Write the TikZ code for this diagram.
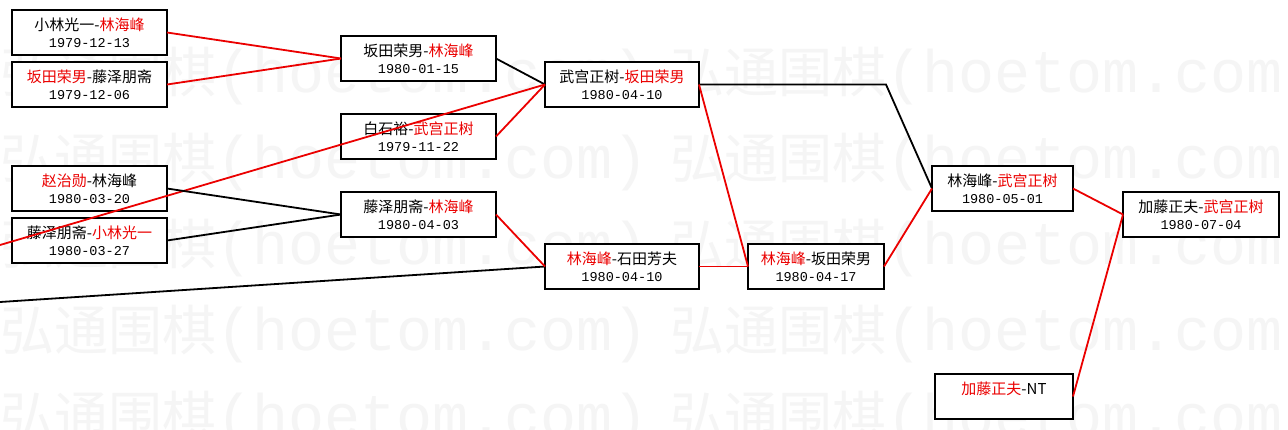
\documentclass[tikz,border=0pt]{standalone}
\usepackage{fontspec}
\setmainfont{Noto Sans CJK SC}
\newfontfamily\datefont{Liberation Mono}
\newfontfamily\wmmono{Liberation Mono}
\definecolor{winred}{RGB}{235,0,0}
\definecolor{wmgray}{RGB}{245,245,245}
\newcommand{\W}[1]{\textcolor{winred}{#1}}
\newcommand{\dt}[1]{{\datefont\fontsize{13.5}{17}\selectfont #1}}
\tikzset{
  game/.style={draw=black, line width=1.8pt, fill=white, inner sep=0pt,
    outer sep=0pt, minimum height=45pt, align=center,
    font=\fontsize{15}{17}\selectfont},
  redline/.style={draw=winred, line width=1.8pt},
  blackline/.style={draw=black, line width=1.8pt},
  wm/.style={text=wmgray, inner sep=0pt, anchor=west,
    font=\fontsize{54}{60}\selectfont}
}
\begin{document}
\begin{tikzpicture}[x=1pt,y=-1pt]
\useasboundingbox[fill=white] (0,0) rectangle (1288,429);
% watermark
\foreach \r [count=\i] in {76,162,248,334,420} {
  \foreach \c [count=\j] in {0,670} {
    \node[wm] (wm-\i-\j) at (\c,\r) {弘通围棋{\wmmono\fontsize{60}{60}\selectfont(hoetom.com)}};
  }
}
% boxes
\node[game, minimum width=155pt] (A) at (89.5,32.5) {小林光一-\W{林海峰}\\\dt{1979-12-13}};
\node[game, minimum width=155pt] (B) at (89.5,84.5) {\W{坂田荣男}-藤泽朋斋\\\dt{1979-12-06}};
\node[game, minimum width=155pt] (C) at (89.5,188.5) {\W{赵治勋}-林海峰\\\dt{1980-03-20}};
\node[game, minimum width=155pt] (D) at (89.5,240.5) {藤泽朋斋-\W{小林光一}\\\dt{1980-03-27}};
\node[game, minimum width=155pt] (E) at (418.5,58.5) {坂田荣男-\W{林海峰}\\\dt{1980-01-15}};
\node[game, minimum width=155pt] (F) at (418.5,136.5) {白石裕-\W{武宫正树}\\\dt{1979-11-22}};
\node[game, minimum width=155pt] (G) at (418.5,214.5) {藤泽朋斋-\W{林海峰}\\\dt{1980-04-03}};
\node[game, minimum width=154pt] (H) at (622,84.5) {武宫正树-\W{坂田荣男}\\\dt{1980-04-10}};
\node[game, minimum width=154pt] (I) at (622,266.5) {\W{林海峰}-石田芳夫\\\dt{1980-04-10}};
\node[game, minimum width=136pt] (J) at (816,266.5) {\W{林海峰}-坂田荣男\\\dt{1980-04-17}};
\node[game, minimum width=141pt] (K) at (1002.5,188.5) {林海峰-\W{武宫正树}\\\dt{1980-05-01}};
\node[game, minimum width=156pt] (L) at (1201,214.5) {加藤正夫-\W{武宫正树}\\\dt{1980-07-04}};
\node[game, minimum width=138pt] (M) at (1004,396.5) {\W{加藤正夫}-NT\\\dt{\phantom{1980-00-00}}};
% free ends
\coordinate (offA) at (0,245);
\coordinate (offB) at (0,302);
\coordinate (bend) at (886,84.5);
% connectors
\draw[redline] (A.east) -- (E.west);
\draw[redline] (B.east) -- (E.west);
\draw[blackline] (E.east) -- (H.west);
\draw[redline] (F.east) -- (H.west);
\draw[redline] (offA) -- (H.west);
\draw[blackline] (C.east) -- (G.west);
\draw[blackline] (D.east) -- (G.west);
\draw[blackline] (offB) -- (I.west);
\draw[redline] (G.east) -- (I.west);
\draw[blackline] (H.east) -- (bend) -- (K.west);
\draw[redline] (H.east) -- (J.west);
\draw[redline] (I.east) -- (J.west);
\draw[redline] (J.east) -- (K.west);
\draw[redline] (K.east) -- (L.west);
\draw[redline] (M.east) -- (L.west);
\end{tikzpicture}
\end{document}
